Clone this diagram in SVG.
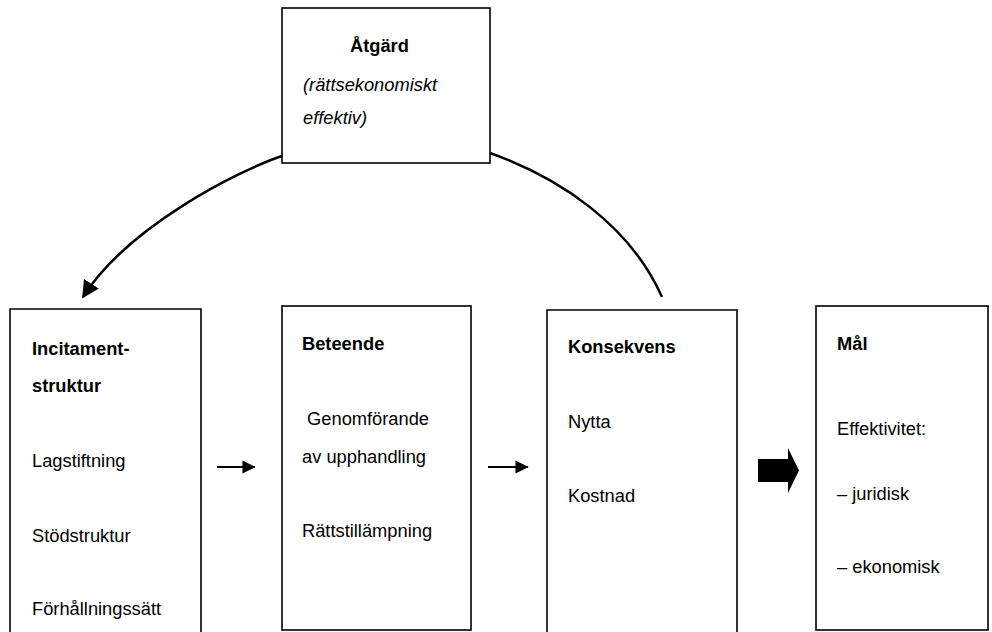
<svg xmlns="http://www.w3.org/2000/svg" width="992" height="632" viewBox="0 0 992 632">
<style>
.box{fill:#fff;stroke:#000;stroke-width:1.6}
.t{font-family:"Liberation Sans",Arial,sans-serif;font-size:18.3px;fill:#000}
.b{font-weight:bold}
.i{font-style:italic}
.conn{fill:none;stroke:#000;stroke-width:2.5}
.line{fill:none;stroke:#000;stroke-width:2.2}
</style>
<defs>
<marker id="ah" viewBox="0 0 10 10" refX="9" refY="5" markerWidth="7" markerHeight="7" markerUnits="strokeWidth" orient="auto">
<path d="M0,0 L10,5 L0,10 Z" fill="#000"/>
</marker>
<marker id="sh" viewBox="0 0 10 10" refX="9.5" refY="5" markerWidth="6.8" markerHeight="6" markerUnits="strokeWidth" orient="auto">
<path d="M0,0 L10,5 L0,10 Z" fill="#000"/>
</marker>
</defs>
<rect width="992" height="632" fill="#fff"/>
<g id="connectors">
<path class="conn" d="M282,156 C240,170 128,226 83,297" marker-end="url(#ah)"/>
<path class="conn" d="M490,153 C560,178 630,225 662,297"/>
<path class="line" d="M217,467 L255,467" marker-end="url(#sh)"/>
<path class="line" d="M488,467 L528,467" marker-end="url(#sh)"/>
<path d="M758,459 L788,459 L788,448 L799,470.5 L788,493 L788,482 L758,482 Z" fill="#000"/>
</g>
<g id="atgard">
<rect class="box" x="282" y="8" width="208" height="155"/>
<text class="t b" x="350" y="52">Åtgärd</text>
<text class="t i" x="303" y="91">(rättsekonomiskt</text>
<text class="t i" x="303" y="124">effektiv)</text>
</g>
<g id="incitament">
<path class="box" d="M10,640 L10,309 L201,309 L201,640"/>
<text class="t b" x="32" y="355">Incitament-</text>
<text class="t b" x="32" y="392">struktur</text>
<text class="t" x="32" y="467">Lagstiftning</text>
<text class="t" x="32" y="542">Stödstruktur</text>
<text class="t" x="32" y="615">Förhållningssätt</text>
</g>
<g id="beteende">
<rect class="box" x="282" y="306" width="189" height="324"/>
<text class="t b" x="302" y="350">Beteende</text>
<text class="t" x="302" y="425" xml:space="preserve"> Genomförande</text>
<text class="t" x="302" y="463">av upphandling</text>
<text class="t" x="302" y="537">Rättstillämpning</text>
</g>
<g id="konsekvens">
<path class="box" d="M547,640 L547,310 L737,310 L737,640"/>
<text class="t b" x="568" y="353">Konsekvens</text>
<text class="t" x="568" y="428">Nytta</text>
<text class="t" x="568" y="502">Kostnad</text>
</g>
<g id="mal">
<rect class="box" x="816" y="306" width="172" height="324"/>
<text class="t b" x="837" y="350">Mål</text>
<text class="t" x="837" y="435">Effektivitet:</text>
<text class="t" x="837" y="500">– juridisk</text>
<text class="t" x="837" y="573">– ekonomisk</text>
</g>
</svg>
